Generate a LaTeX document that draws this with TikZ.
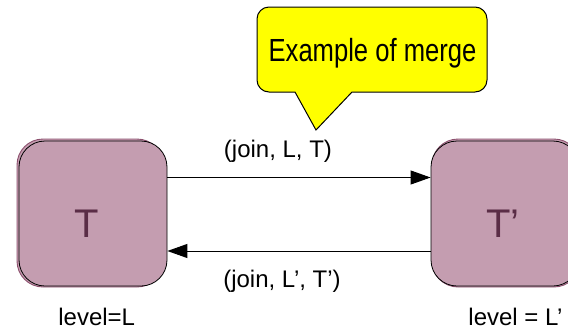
\documentclass[tikz,border=0pt]{standalone}
\usepackage{fontspec}
\setmainfont{Liberation Sans}
\usetikzlibrary{arrows.meta}
\definecolor{boxfill}{HTML}{C49DB0}
\definecolor{boxedge}{HTML}{8C506E}
\definecolor{boxtext}{HTML}{5A2D46}
\definecolor{notefill}{HTML}{FFFF00}
\tikzset{
  stateback/.style={rectangle, rounded corners=26pt, fill=boxfill, draw=boxedge, line width=0.9pt, inner sep=0pt},
  statefront/.style={rectangle, rounded corners=26pt, fill=boxfill, draw=black, line width=0.8pt, inner sep=0pt, minimum width=148pt, minimum height=145pt},
  statename/.style={anchor=base, text=boxtext, font=\fontsize{40}{44}\selectfont, inner sep=0pt},
  txt/.style={anchor=base, font=\fontsize{24}{28}\selectfont, inner sep=0pt},
  arr/.style={line width=1pt, -{Triangle[length=20pt, width=14pt]}},
  notebody/.style={fill=notefill, draw=black, line width=1pt}
}
\begin{document}
\begin{tikzpicture}[x=1pt, y=-1pt]
  \useasboundingbox (0,0) rectangle (568,330);
  \clip (0,0) rectangle (568,330);

  % callout bubble
  \draw[notebody] (352,92) [rounded corners=12pt] -- (487,92) -- (487,7) -- (257,7) -- (257,92)
     [sharp corners] -- (295,92) -- (316,130) -- cycle;
  \node[txt] (note) at (372.5,61.7) {\scalebox{0.8}[1]{\fontsize{32}{36}\selectfont Example of merge}};

  % left state
  \node[stateback, minimum width=146pt, minimum height=148pt] (Lback) at (90,213) {};
  \node[statefront] (L) at (93,213.5) {};
  \node[statename] (Lname) at (87,237) {T};
  \node[txt] (Llevel) at (96.7,325) {level=L};

  % right state
  \node[stateback, minimum width=148pt, minimum height=148pt] (Rback) at (506,213) {};
  \node[statefront] (R) at (505,213.5) {};
  \node[statename] (Rname) at (503,237) {T’};
  \node[txt] (Rlevel) at (515.5,325) {level = L’};

  % transitions
  \draw[arr] ([yshift=36pt]L.east) -- ([yshift=36pt]R.west);
  \draw[arr] ([yshift=-37.5pt]R.west) -- ([yshift=-37.5pt]L.east);
  \node[txt] (jtop) at (278,157) {(join, L, T)};
  \node[txt] (jbot) at (282,287) {(join, L’, T’)};
\end{tikzpicture}
\end{document}
